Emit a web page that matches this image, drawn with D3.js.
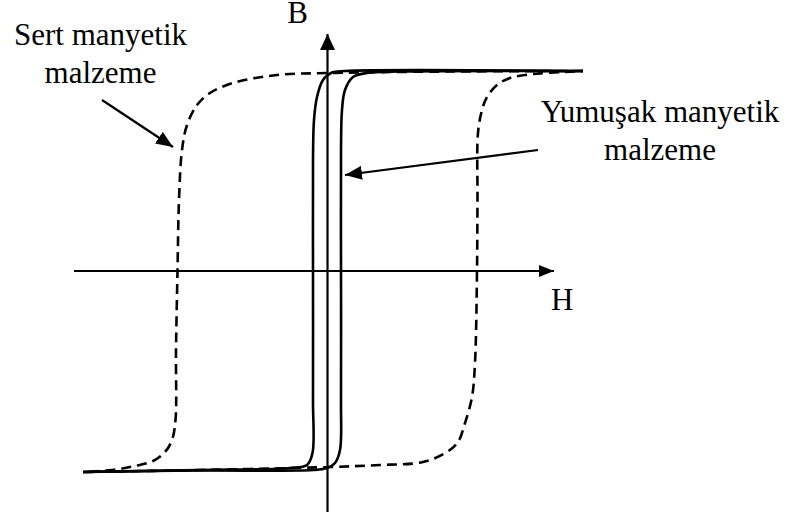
<!DOCTYPE html>
<html>
<head>
<meta charset="utf-8">
<script src="https://cdn.jsdelivr.net/npm/d3@7"></script>
<style>
  html, body { margin: 0; padding: 0; background: #fff; }
  svg { display: block; }
  text { font-family: "Liberation Serif", "Times New Roman", serif; fill: #000; }
</style>
</head>
<body>
<svg id="chart" width="790" height="520"></svg>
<script>
// ---- data (H, B) in arbitrary units ----
const hardDescH = [25.55, 12.25, 0.25, -5.05, -9.45, -11.75, -13.05, -14.05, -14.55, -14.85, -15.0, -15.15, -15.2, -15.55, -16.25, -17.45, -19.25, -21.55, -24.45];
const hardDescB = [1.0, 0.9975, 0.99, 0.98, 0.94, 0.89, 0.83, 0.73, 0.605, 0.355, 0, -0.395, -0.745, -0.845, -0.905, -0.95, -0.975, -0.995, -1.005];
const hardAscH = [-24.45, -12.75, 0.25, 5.25, 9.55, 11.95, 13.05, 13.75, 14.45, 14.75, 14.95, 15.0, 15.05, 15.45, 15.95, 16.95, 18.25, 20.55, 23.55, 25.55];
const hardAscB = [-1.005, -0.995, -0.98, -0.97, -0.955, -0.905, -0.855, -0.76, -0.63, -0.46, 0, 0.355, 0.69, 0.805, 0.87, 0.93, 0.965, 0.985, 0.995, 1.0];
const softDescH = [25.55, 1.75, 0.45, -0.45, -1.05, -1.35, -1.45, -1.45, -1.45, -1.5, -2.05, -3.75, -12.75, -24.45];
const softDescB = [1.0, 1.0, 0.9925, 0.955, 0.87, 0.755, 0.555, 0, -0.645, -0.91, -0.97, -0.985, -0.995, -1.005];
const softAscH = [-24.45, -12.75, -1.45, -0.05, 0.75, 1.25, 1.35, 1.35, 1.35, 1.45, 1.75, 2.55, 3.95, 7.25, 25.55];
const softAscB = [-1.005, -0.9975, -0.995, -0.985, -0.96, -0.895, -0.645, 0, 0.605, 0.805, 0.905, 0.97, 0.99, 0.9975, 1.0];

const axisHExtent = [-25.35, 22.75];
const axisBExtent = [-1.205, 1.19];
const axisLabels = ["H", "B"];
const hardLabel = ["Sert manyetik", "malzeme"];
const softLabel = ["Yumuşak manyetik", "malzeme"];
// annotation arrows: [fromH, fromB, toH, toB]
const hardArrow = [-22.55, 0.855, -15.45, 0.62];
const softArrow = [21.05, 0.605, 1.75, 0.48];

// ---- scales ----
const x = d3.scaleLinear().domain([-26, 26]).range([67.5, 587.5]);
const y = d3.scaleLinear().domain([-1.2, 1.2]).range([511, 31]);

const svg = d3.select("#chart");
const defs = svg.append("defs");
function marker(id, len, half) {
  defs.append("marker").attr("id", id)
    .attr("markerUnits", "userSpaceOnUse")
    .attr("viewBox", `0 ${-half} ${len} ${2 * half}`)
    .attr("refX", len).attr("refY", 0)
    .attr("markerWidth", len).attr("markerHeight", 2 * half)
    .attr("orient", "auto")
    .append("path").attr("d", `M0,${-half}L${len},0L0,${half}Z`).attr("fill", "#000");
}
marker("axArrV", 16, 7.5);
marker("axArrH", 15, 6);
marker("annArr", 17, 7);

// ---- axes ----
const xAxisScale = d3.scaleLinear().domain(axisHExtent).range(axisHExtent.map(x));
const yAxisScale = d3.scaleLinear().domain(axisBExtent).range(axisBExtent.map(y));

const gx = svg.append("g").attr("transform", `translate(0,${y(0)})`)
  .call(d3.axisBottom(xAxisScale).tickValues([]).tickSizeOuter(0));
gx.select(".domain").attr("stroke", "#000").attr("stroke-width", 2.2)
  .attr("d", `M${x(axisHExtent[0])},0H${x(axisHExtent[1]) - 1}`)
  .attr("marker-end", "url(#axArrH)");

const gy = svg.append("g").attr("transform", `translate(${x(0)},0)`)
  .call(d3.axisLeft(yAxisScale).tickValues([]).tickSizeOuter(0));
gy.select(".domain").attr("stroke", "#000").attr("stroke-width", 2.2)
  .attr("d", `M0,${y(axisBExtent[0])}V${y(axisBExtent[1]) + 1}`)
  .attr("marker-end", "url(#axArrV)");

// ---- curves ----
const line = d3.line().x(d => x(d[0])).y(d => y(d[1])).curve(d3.curveCatmullRom.alpha(0.5));
const zip = (a, b) => a.map((v, i) => [v, b[i]]);

[[hardDescH, hardDescB], [hardAscH, hardAscB]].forEach(([h, b]) => {
  svg.append("path").attr("d", line(zip(h, b)))
    .attr("fill", "none").attr("stroke", "#000").attr("stroke-width", 2.6)
    .attr("stroke-dasharray", "10,6");
});
[[softDescH, softDescB], [softAscH, softAscB]].forEach(([h, b]) => {
  svg.append("path").attr("d", line(zip(h, b)))
    .attr("fill", "none").attr("stroke", "#000").attr("stroke-width", 2.6);
});

// ---- annotations ----
[hardArrow, softArrow].forEach(a => {
  svg.append("line")
    .attr("x1", x(a[0])).attr("y1", y(a[1]))
    .attr("x2", x(a[2])).attr("y2", y(a[3]))
    .attr("stroke", "#000").attr("stroke-width", 2.2)
    .attr("marker-end", "url(#annArr)");
});

const fs = 31;
function label(lines, cx, baseline) {
  const t = svg.append("text").attr("text-anchor", "middle").attr("font-size", fs);
  lines.forEach((s, i) => t.append("tspan").attr("x", cx).attr("y", baseline + i * 38).text(s));
}
label(hardLabel, 100.5, 45);
label(softLabel, 660, 122);

svg.append("text").attr("x", 551).attr("y", 310).attr("font-size", fs).text(axisLabels[0]);
svg.append("text").attr("x", 308).attr("y", 23).attr("text-anchor", "end").attr("font-size", fs).text(axisLabels[1]);
</script>
</body>
</html>
